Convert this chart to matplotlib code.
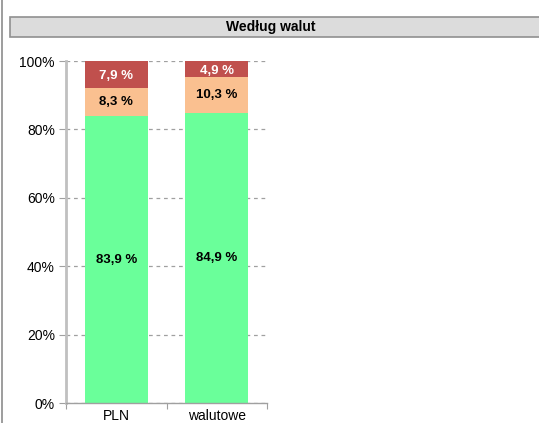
import matplotlib.pyplot as plt
from matplotlib.patches import Rectangle
from matplotlib.lines import Line2D

plt.rcParams['font.family'] = ['Liberation Sans', 'DejaVu Sans']

categories = ['PLN', 'walutowe']
green_vals = [83.9, 84.9]
orange_vals = [8.3, 10.3]
red_vals = [7.9, 4.9]
yticks = [0, 20, 40, 60, 80, 100]
title = 'Według walut'

fig = plt.figure(figsize=(5.39, 4.23), dpi=100)

# title banner
fig.patches.append(Rectangle((10/539, 1-37/423), 540/539, 20/423, transform=fig.transFigure,
                             facecolor='#dcdcdc', edgecolor='#909090', lw=1.2))
fig.text(271/539, 1-27/423, title, ha='center', va='center',
         fontsize=10, fontweight='bold')
# left frame line
fig.lines.append(Line2D([1.5/539, 1.5/539], [0, 1], transform=fig.transFigure,
                        color='#8c8c8c', lw=1.2))

ax = fig.add_axes([66/539, 20/423, 201/539, 342/423])
x = range(len(categories))
w = 0.63
ax.bar(x, green_vals, w, color='#6aff9a', zorder=2)
ax.bar(x, orange_vals, w, bottom=green_vals, color='#fac090', zorder=2)
bot = [g + o for g, o in zip(green_vals, orange_vals)]
ax.bar(x, red_vals, w, bottom=bot, color='#c0504d', zorder=2)

def fmt(v):
    return f'{v:.1f} %'.replace('.', ',')

for i in x:
    ax.text(i, green_vals[i]/2, fmt(green_vals[i]), ha='center', va='center',
            fontsize=9.5, fontweight='bold', zorder=3)
    ax.text(i, green_vals[i] + orange_vals[i]/2, fmt(orange_vals[i]), ha='center', va='center',
            fontsize=9.5, fontweight='bold', zorder=3)
    ax.text(i, bot[i] + red_vals[i]/2 - 0.5, fmt(red_vals[i]), ha='center',
            va='center', fontsize=9.5, fontweight='bold', color='white', zorder=3)

ax.set_xlim(-0.5, 1.5)
ax.set_ylim(0, 100)
ax.set_yticks(yticks)
ax.set_yticklabels([f'{t}%' for t in yticks], fontsize=10)
ax.yaxis.grid(True, linestyle=(0, (3, 3)), color='#a0a0a0', lw=0.9, zorder=0)
ax.set_xticks([-0.5, 0.5, 1.5], minor=False)
ax.set_xticklabels(['', '', ''])
ax.set_xticks(list(x), minor=True)
ax.set_xticklabels(categories, minor=True, fontsize=10)
ax.tick_params(axis='x', which='minor', length=0, pad=4)
ax.tick_params(axis='x', which='major', length=4, color='#a0a0a0', direction='out')
ax.tick_params(axis='y', length=5, color='#a0a0a0', pad=3)
for s in ['top', 'right']:
    ax.spines[s].set_visible(False)
ax.spines['left'].set_color('#c0c0c0')
ax.spines['left'].set_linewidth(2)
ax.spines['bottom'].set_color('#a0a0a0')
ax.spines['bottom'].set_linewidth(1)

fig.savefig('out.png', dpi=100)
